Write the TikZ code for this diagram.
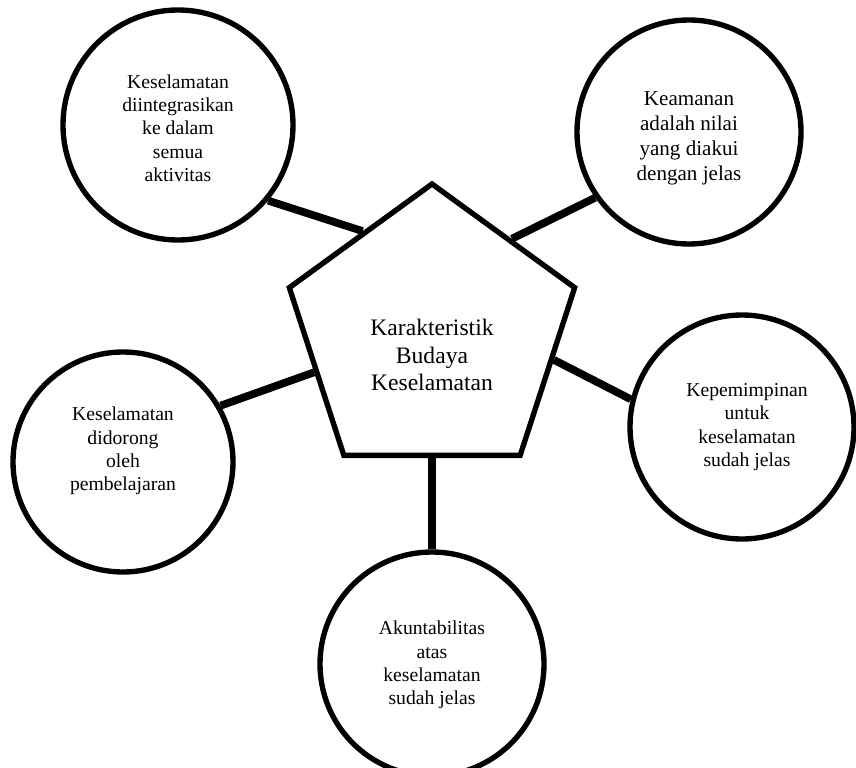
\documentclass[tikz,border=0pt]{standalone}
\usepackage{fontspec}
\setmainfont{Liberation Serif}
\usetikzlibrary{shapes.geometric}

\tikzset{
  bubble/.style={circle, draw, line width=3.8pt, inner sep=0pt},
  core/.style={regular polygon, regular polygon sides=5, draw, line width=3.8pt,
    minimum size=7.5cm, inner sep=0pt},
  bubbletxt/.style={align=center, font=\fontsize{14}{16.6}\selectfont},
  coretxt/.style={align=center, font=\fontsize{16.8}{19.6}\selectfont},
  spoke/.style={line width=5.5pt}
}

\begin{document}
\begin{tikzpicture}
  \useasboundingbox (0,0) rectangle (21.4,-19.175);
  \clip (0,0) rectangle (21.4,-19.175);

  % Center pentagon
  \node[core] (core) at (10.8,-8.35) {};
  \node[coretxt] (coretext) at (10.8,-8.875) {Karakteristik\\Budaya\\Keselamatan};

  % Surrounding circles
  \node[bubble, minimum size=5.75cm] (integr) at (4.45,-3.125) {};
  \node[bubble, minimum size=5.6cm] (value) at (17.225,-3.3) {};
  \node[bubble, minimum size=5.5cm] (learn) at (3.075,-11.55) {};
  \node[bubble, minimum size=5.6cm] (lead) at (18.55,-10.675) {};
  \node[bubble, minimum size=5.6cm] (account) at (10.8,-16.6) {};

  % Circle texts
  \node[bubbletxt] (integrtext) at (4.45,-3.2) {Keselamatan\\diintegrasikan\\ke dalam\\semua\\aktivitas};
  \node[bubbletxt, font=\fontsize{15}{17.8}\selectfont] (valuetext) at (17.225,-3.45) {Keamanan\\adalah nilai\\yang diakui\\dengan jelas};
  \node[bubbletxt] (learntext) at (3.075,-11.275) {Keselamatan\\didorong\\oleh\\pembelajaran};
  \node[bubbletxt] (leadtext) at (18.675,-10.675) {Kepemimpinan\\untuk\\keselamatan\\sudah jelas};
  \node[bubbletxt] (accounttext) at (10.8,-16.625) {Akuntabilitas\\atas\\keselamatan\\sudah jelas};

  % Spokes
  \draw[spoke] (integr.-40.4) -- (core.124.5);
  \draw[spoke] (value.215) -- (core.50.9);
  \draw[spoke] (learn.30.4) -- (core.198.7);
  \draw[spoke] (lead.166.4) -- (core.-12.4);
  \draw[spoke] (core.-90) -- (account.90);
\end{tikzpicture}
\end{document}
